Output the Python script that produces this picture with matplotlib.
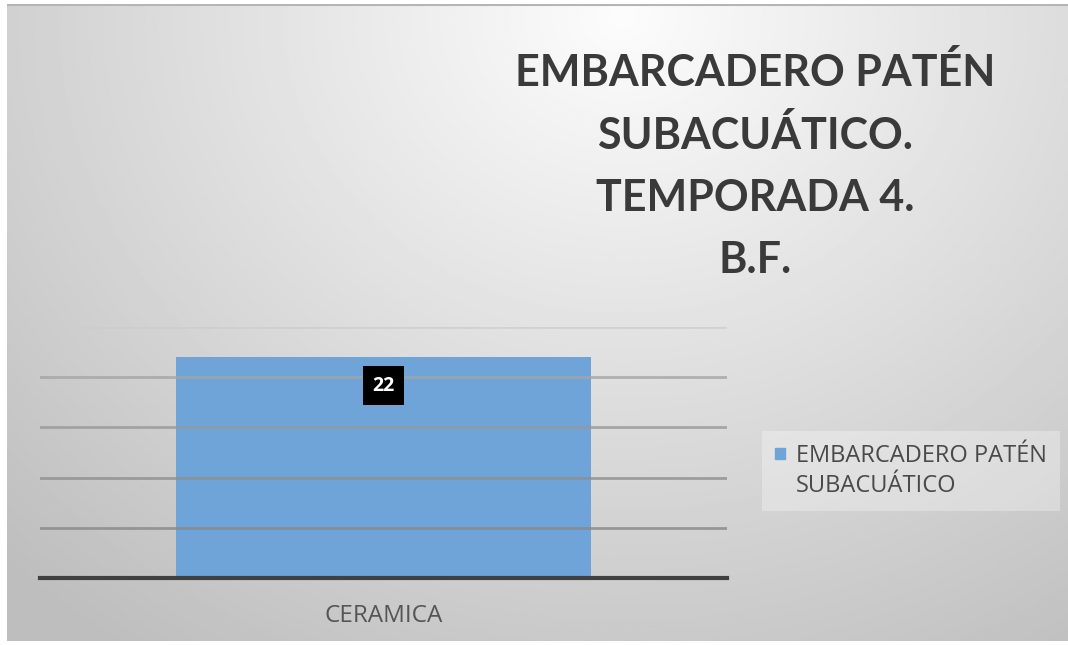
import numpy as np
import matplotlib
matplotlib.use("Agg")
import matplotlib.pyplot as plt
from matplotlib.patches import Patch, Rectangle
from matplotlib.legend_handler import HandlerPatch

# Data
categories = ["CERAMICA"]
values = [22]
series_name = "EMBARCADERO PATÉN\nSUBACUÁTICO"
title_text = "EMBARCADERO PATÉN\nSUBACUÁTICO.\nTEMPORADA 4.\nB.F."
y_ticks = [0, 5, 10, 15, 20, 25]

BAR_COLOR = "#6ea4d8"

W, H = 1068, 645
fig = plt.figure(figsize=(W / 100, H / 100), dpi=100, facecolor="white")

# Soft radial gray background panel
bg = fig.add_axes([7 / W, 4 / H, 1061 / W, 637 / H], zorder=0)
yy, xx = np.mgrid[0:1:300j, 0:1:500j]
d = np.sqrt(((xx - 0.58) / 0.72) ** 2 + ((yy - 0.02) / 1.05) ** 2)
gray = np.clip(252 - 54 * d, 190, 252) / 255.0
bg.imshow(gray, cmap="gray", vmin=0, vmax=1, aspect="auto",
          extent=[0, 1, 1, 0], interpolation="bilinear")
bg.set_axis_off()
bg.plot([0, 1], [0.999, 0.999], color="#b5b5b5", lw=1.5, transform=bg.transAxes)

# Plot area
ax = fig.add_axes([40 / W, 67 / H, 687 / W, 251 / H], zorder=2)
ax.set_facecolor("none")
x = np.arange(len(categories))
bars = ax.bar(x, values, width=0.605, color=BAR_COLOR, zorder=1)
ax.set_xlim(-0.5, 0.5)
ax.set_ylim(0, 25)
ax.set_yticks(y_ticks)
ax.yaxis.grid(True, lw=2.0, zorder=2)
grid_colors = ["#909090", "#888888", "#8e8e8e", "#989898", "#a4a4a4", "#cdcdcd"]
for gl, c in zip(ax.get_ygridlines(), grid_colors):
    gl.set_color(c)
    gl.set_alpha(0.8)
ax.set_axisbelow(False)
ax.tick_params(axis="y", length=0, labelleft=False)
for s in ["top", "right", "left"]:
    ax.spines[s].set_visible(False)
ax.spines["bottom"].set_color("#404040")
ax.spines["bottom"].set_linewidth(3)
ax.spines["bottom"].set_zorder(3)
ax.set_xticks(x)
ax.set_xticklabels(categories, fontsize=17.5, color="#555555", family="Open Sans")
ax.tick_params(axis="x", length=0, pad=18.5)

# Value label
for b, v in zip(bars, values):
    ax.annotate(f"{v}", xy=(b.get_x() + b.get_width() / 2, v), xytext=(0, -20.5),
                textcoords="offset points", ha="center", va="center",
                fontsize=14, fontweight="bold", color="white", family="Open Sans",
                bbox=dict(boxstyle="square,pad=0.5", fc="black", ec="none"), zorder=4)

# Title
fig.text(755 / W, 1 - 166 / H, title_text, ha="center", va="center",
         fontsize=31, fontweight="bold", color="#3a3a3a", family="Lato",
         linespacing=1.66, zorder=3)


# Legend key: small square level with the first text line
def top_square(legend, orig_handle, xdescent, ydescent, width, height, fontsize):
    side = width
    return Rectangle((-xdescent, -ydescent + height - side + 0.22 * fontsize),
                     side, side)


leg = fig.legend(handles=[Patch(color=BAR_COLOR, label=series_name)],
                 loc="center left", bbox_to_anchor=(750 / W, 1 - 471 / H),
                 frameon=True, fancybox=False,
                 prop={"family": "Open Sans", "size": 17},
                 handlelength=0.45, handleheight=2.1, handletextpad=0.45,
                 borderpad=0.55,
                 handler_map={Patch: HandlerPatch(patch_func=top_square)})
for t in leg.get_texts():
    t.set_color("#4a4a4a")
    t.set_linespacing(1.3)
leg.get_frame().set_facecolor("white")
leg.get_frame().set_alpha(0.3)
leg.get_frame().set_edgecolor("none")
leg.set_zorder(3)

fig.savefig("out.png", dpi=100, facecolor="white")
